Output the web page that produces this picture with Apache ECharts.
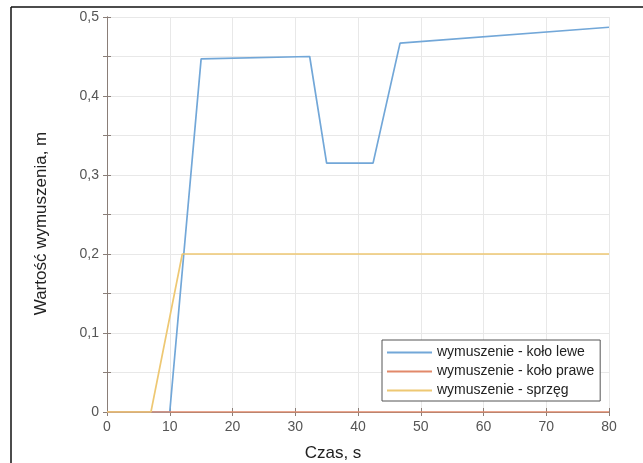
<!DOCTYPE html>
<html>
<head>
<meta charset="utf-8">
<script src="https://cdn.jsdelivr.net/npm/echarts@6/dist/echarts.min.js"></script>
<style>
  html, body { margin: 0; padding: 0; background: #fff; }
  #chart { width: 643px; height: 463px; }
</style>
</head>
<body>
<div id="chart"></div>
<script>
// dane
var czasLewe = [0, 10, 15, 32.3, 35, 42.4, 46.7, 80];
var wartLewe = [0, 0, 0.447, 0.45, 0.315, 0.315, 0.467, 0.487];
var czasPrawe = [0, 80];
var wartPrawe = [0, 0];
var czasSprzeg = [0, 7, 12, 80];
var wartSprzeg = [0, 0, 0.2, 0.2];
var nazwy = ['wymuszenie - koło lewe', 'wymuszenie - koło prawe', 'wymuszenie - sprzęg'];
var kolory = ['#72a7d8', '#e2896a', '#eec873'];

function pary(xs, ys) {
  var out = [];
  for (var i = 0; i < xs.length; i++) {
    out.push([xs[i], ys[i]]);
  }
  return out;
}

var axisColor = '#8a7e78';
var font = 'Liberation Sans, Arial, sans-serif';

// osie dodatkowe (góra / prawo) tylko z kreskami, jak w MATLAB-ie
function osPomocnicza(pos, min, max, step) {
  return {
    type: 'value',
    position: pos,
    min: min, max: max, interval: step,
    axisLine: { show: true, lineStyle: { color: axisColor, width: 1 } },
    axisTick: { show: true, inside: true, length: 4, lineStyle: { color: axisColor } },
    axisLabel: { show: false },
    splitLine: { show: false }
  };
}

var option = {
  animation: false,
  backgroundColor: '#fff',
  textStyle: { fontFamily: font },
  graphic: [
    { type: 'line', shape: { x1: 11, y1: 7, x2: 643, y2: 7 }, style: { stroke: '#111', lineWidth: 1.5 } },
    { type: 'line', shape: { x1: 11, y1: 7, x2: 11, y2: 463 }, style: { stroke: '#111', lineWidth: 1.5 } }
  ],
  grid: { left: 107, right: 34, top: 17, bottom: 51, outerBoundsMode: 'none' },
  legend: {
    data: nazwy,
    orient: 'vertical',
    left: 382,
    top: 340,
    icon: 'rect',
    itemWidth: 45,
    itemHeight: 2,
    itemGap: 4,
    padding: [5, 6, 3, 5],
    backgroundColor: '#fff',
    borderColor: '#555',
    borderWidth: 1,
    textStyle: { fontSize: 14, lineHeight: 15, color: '#222', fontFamily: font }
  },
  xAxis: [{
    type: 'value',
    min: 0, max: 80, interval: 10,
    name: 'Czas, s',
    nameLocation: 'middle',
    nameGap: 33,
    nameTextStyle: { fontSize: 17, color: '#222', padding: [0, 50, 0, 0] },
    axisLine: { show: true, lineStyle: { color: axisColor, width: 1 } },
    axisTick: { show: true, inside: true, length: 4, lineStyle: { color: axisColor } },
    axisLabel: { fontSize: 14, color: '#555', margin: 8 },
    splitLine: { show: true, lineStyle: { color: '#e8e8e8', width: 1 } }
  }, osPomocnicza('top', 0, 80, 10)],
  yAxis: [{
    type: 'value',
    min: 0, max: 0.5, interval: 0.05,
    name: 'Wartość wymuszenia, m',
    nameLocation: 'middle',
    nameGap: 57,
    nameTextStyle: { fontSize: 17, color: '#222', padding: [0, 18, 0, 0] },
    axisLine: { show: true, lineStyle: { color: axisColor, width: 1 } },
    axisTick: { show: true, inside: true, length: 4, lineStyle: { color: axisColor } },
    axisLabel: {
      fontSize: 14, color: '#555', margin: 8,
      formatter: function (v) {
        var k = Math.round(v * 100);
        if (k % 10 !== 0) return '';
        return (k / 100).toString().replace('.', ',');
      }
    },
    splitLine: { show: true, lineStyle: { color: '#e8e8e8', width: 1 } }
  }, osPomocnicza('right', 0, 0.5, 0.05)],
  series: [
    {
      name: nazwy[0], type: 'line', data: pary(czasLewe, wartLewe),
      symbol: 'none', color: kolory[0], lineStyle: { width: 1.7 }
    },
    {
      name: nazwy[1], type: 'line', data: pary(czasPrawe, wartPrawe),
      symbol: 'none', color: kolory[1], lineStyle: { width: 1.7 }
    },
    {
      name: nazwy[2], type: 'line', data: pary(czasSprzeg, wartSprzeg),
      symbol: 'none', color: kolory[2], lineStyle: { width: 1.7 }
    }
  ]
};

echarts.init(document.getElementById('chart')).setOption(option);
</script>
</body>
</html>
